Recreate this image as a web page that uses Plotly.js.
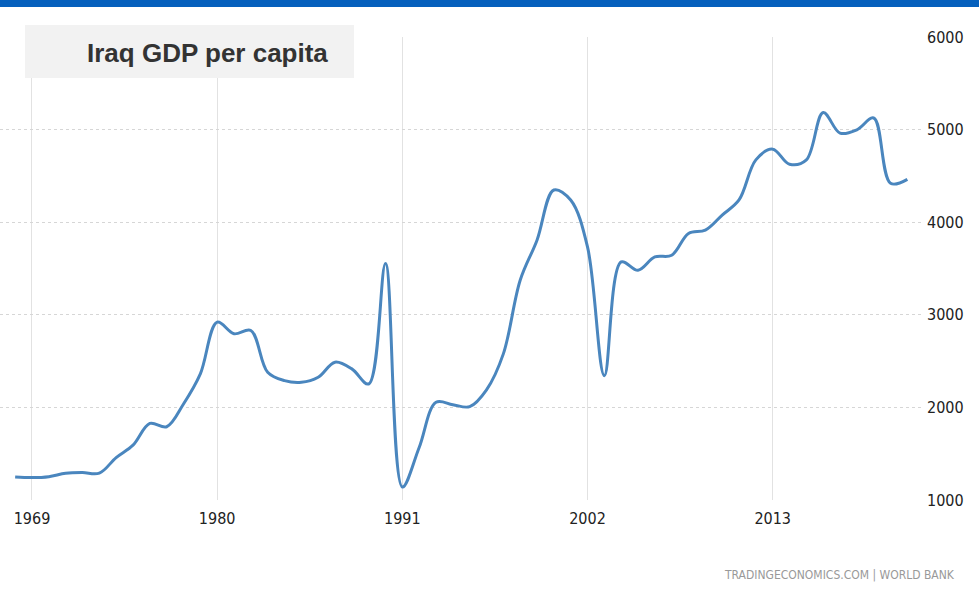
<!DOCTYPE html>
<html>
<head>
<meta charset="utf-8">
<script src="https://cdn.plot.ly/plotly-3.0.1.min.js"></script>
<style>
html,body{margin:0;padding:0;background:#fff;}
#chart{width:979px;height:599px;}
</style>
</head>
<body>
<div id="chart"></div>
<script>
const years = [1968,1969,1970,1971,1972,1973,1974,1975,1976,1977,1978,1979,1980,1981,1982,1983,1984,1985,1986,1987,1988,1989,1990,1991,1992,1993,1994,1995,1996,1997,1998,1999,2000,2001,2002,2003,2004,2005,2006,2007,2008,2009,2010,2011,2012,2013,2014,2015,2016,2017,2018,2019,2020,2021];
const gdpPerCapita = [1249,1242,1252,1289,1296,1290,1458,1592,1827,1791,2037,2362,2921,2795,2831,2379,2289,2271,2325,2488,2416,2253,3554,1140,1567,2055,2029,2008,2190,2578,3373,3806,4348,4240,3733,2343,3571,3481,3625,3643,3878,3914,4077,4240,4673,4789,4626,4673,5185,4962,4998,5125,4420,4463];
const tickYears = [1969,1980,1991,2002,2013];
const tickLabels = ["1969","1980","1991","2002","2013"];
const yTicks = [1000,2000,3000,4000,5000,6000];
const yTickLabels = ["1000","2000","3000","4000","5000","6000"];
const titleText = "Iraq GDP per capita";
const sourceText = "TRADINGECONOMICS.COM | WORLD BANK";

const narrow = "'DejaVu Sans Condensed','Liberation Sans Narrow',Arial,sans-serif";

const trace = {
  x: years, y: gdpPerCapita, type: 'scatter', mode: 'lines',
  line: {color: '#4a86be', width: 3, shape: 'spline', smoothing: 1},
  hoverinfo: 'skip'
};

const layout = {
  width: 979, height: 599,
  margin: {l: 0, r: 58, t: 37, b: 99},
  paper_bgcolor: '#ffffff', plot_bgcolor: '#ffffff',
  showlegend: false,
  xaxis: {
    range: [1967.1, 2021.81],
    tickmode: 'array', tickvals: tickYears, ticktext: tickLabels,
    showgrid: true, gridcolor: '#e2e2e2', gridwidth: 1,
    zeroline: false, showline: false, ticks: '',
    tickfont: {family: narrow, size: 16, color: '#222'},
    ticklabelstandoff: 7
  },
  yaxis: {
    range: [1000, 6000], side: 'right',
    tickmode: 'array', tickvals: yTicks, ticktext: yTickLabels,
    showgrid: true, gridcolor: '#d6d6d6', griddash: 'dot', gridwidth: 1,
    zeroline: false, showline: false, ticks: '',
    tickfont: {family: narrow, size: 16, color: '#222'},
    ticklabelstandoff: 5
  },
  shapes: [
    {type: 'rect', xref: 'paper', yref: 'paper', x0: -0.01, x1: 1.1, y0: 1 + 30/462, y1: 1 + 40/462,
     fillcolor: '#0560bd', line: {width: 0}, layer: 'above'},
    {type: 'rect', xref: 'paper', yref: 'paper', x0: 25/921, x1: 354/921, y0: (499-78)/462, y1: (499-25)/462,
     fillcolor: '#f2f2f2', line: {width: 0}, layer: 'above'}
  ],
  annotations: [
    {text: '<b>' + titleText + '</b>', xref: 'paper', yref: 'paper', x: 85/921, y: (499-53)/462,
     xanchor: 'left', yanchor: 'middle', showarrow: false,
     font: {family: "'Liberation Sans',Arial,sans-serif", size: 26, color: '#333'}},
    {text: sourceText, xref: 'paper', yref: 'paper', x: 957/921, y: (499-574)/462,
     xanchor: 'right', yanchor: 'middle', showarrow: false,
     font: {family: narrow, size: 12, color: '#999'}}
  ]
};

Plotly.newPlot('chart', [trace], layout, {staticPlot: true, displayModeBar: false});
</script>
</body>
</html>
